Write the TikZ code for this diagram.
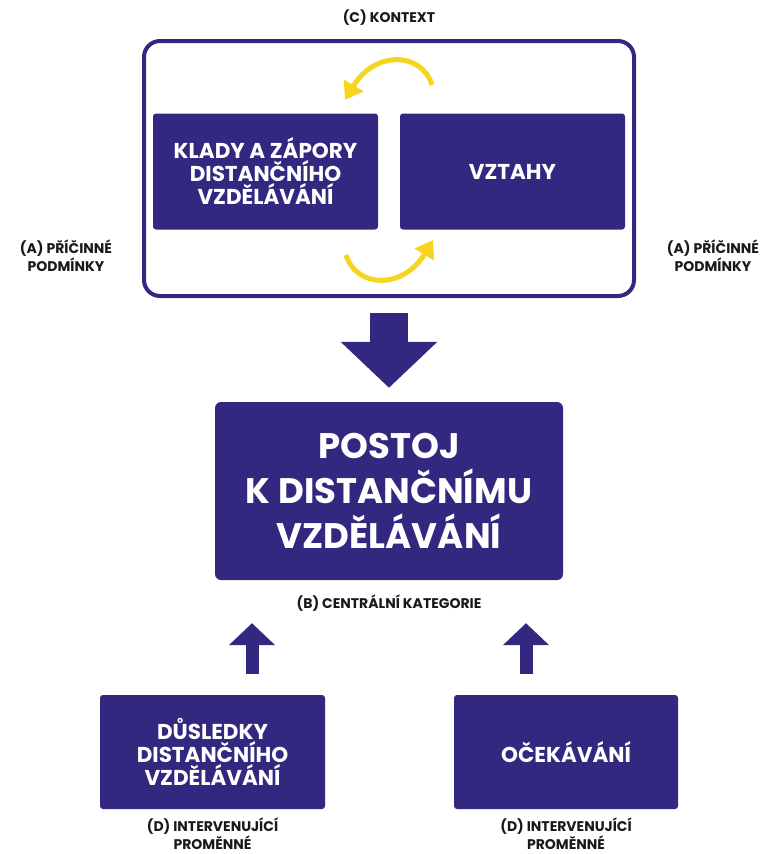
\documentclass[tikz,border=0pt]{standalone}
\usepackage{fontspec}
\setmainfont{Poppins}
\usepackage{tikz}
\usetikzlibrary{arrows.meta, positioning, calc}
\definecolor{kpurple}{RGB}{50,40,128}
\definecolor{kyellow}{RGB}{247,213,30}
\definecolor{ktext}{RGB}{25,25,25}

\begin{document}
\begin{tikzpicture}[
  x=1pt, y=-1pt,
  catbox/.style={rectangle, fill=kpurple, text=white, rounded corners=3pt, align=center,
    minimum width=225pt, minimum height=116pt, font=\bfseries\fontsize{21.5}{23}\selectfont},
  corebox/.style={rectangle, fill=kpurple, text=white, rounded corners=6pt, align=center,
    minimum width=348pt, minimum height=178pt, font=\bfseries\fontsize{35.5}{45}\selectfont},
  lbl/.style={align=center, text=ktext, inner sep=0pt, font=\bfseries\fontsize{14}{18}\selectfont},
  bigarrow/.style={draw=kpurple, line width=38pt, -{Triangle[width=94pt, length=46pt]}},
  smallarrow/.style={draw=kpurple, line width=13pt, -{Triangle[width=45pt, length=22pt]}},
  cyclearrow/.style={draw=kyellow, line width=5pt, -{Triangle[width=22pt, length=17pt]}}
]
  \useasboundingbox (0,0) rectangle (768,854);

  \node[draw=kpurple, line width=4pt, rounded corners=16pt, minimum width=490pt, minimum height=255pt] (kontext) at (389,168.5) {};
  \node[lbl, above=13pt of kontext] (kontextlbl) {(C) KONTEXT};

  \node[catbox] (klady) at (265.5,171.5) {KLADY A ZÁPORY\\DISTANČNÍHO\\VZDĚLÁVÁNÍ};
  \node[catbox] (vztahy) at (512.5,171.5) {VZTAHY};

  \coordinate (c1) at (432,85);
  \coordinate (c2) at (345,100);
  \coordinate (c3) at (346,255);
  \coordinate (c4) at (433,240);
  \draw[cyclearrow] (c1) .. controls (422,52) and (375,50) .. (c2);
  \draw[cyclearrow] (c3) .. controls (356,288) and (403,290) .. (c4);

  \node[lbl] (pricinneL) at (66,256) {(A) PŘÍČINNÉ\\PODMÍNKY};
  \node[lbl] (pricinneR) at (713,256) {(A) PŘÍČINNÉ\\PODMÍNKY};

  \node[corebox] (postoj) at (389,491) {POSTOJ\\K DISTANČNÍMU\\VZDĚLÁVÁNÍ};
  \node[lbl, below=14pt of postoj] (postojlbl) {(B) CENTRÁLNÍ KATEGORIE};

  \draw[bigarrow] ([yshift=-15pt]kontext.south) -- ([yshift=14pt]postoj.north);

  \node[catbox, minimum height=114pt] (dusledky) at (212.5,752) {DŮSLEDKY\\DISTANČNÍHO\\VZDĚLÁVÁNÍ};
  \node[catbox, minimum width=224pt, minimum height=114pt] (ocekavani) at (566,752) {OČEKÁVÁNÍ};
  \node[lbl, below=8pt of dusledky] (dusledkylbl) {(D) INTERVENUJÍCÍ\\PROMĚNNÉ};
  \node[lbl, below=8pt of ocekavani] (ocekavanilbl) {(D) INTERVENUJÍCÍ\\PROMĚNNÉ};

  \coordinate (u1) at ($(dusledky.north)+(39.5,-21)$);
  \coordinate (u2) at ($(ocekavani.north)+(-40,-21)$);
  \coordinate (b1) at ($(postoj.south)+(0,43)$);
  \draw[smallarrow] (u1) -- (u1 |- b1);
  \draw[smallarrow] (u2) -- (u2 |- b1);
\end{tikzpicture}
\end{document}
